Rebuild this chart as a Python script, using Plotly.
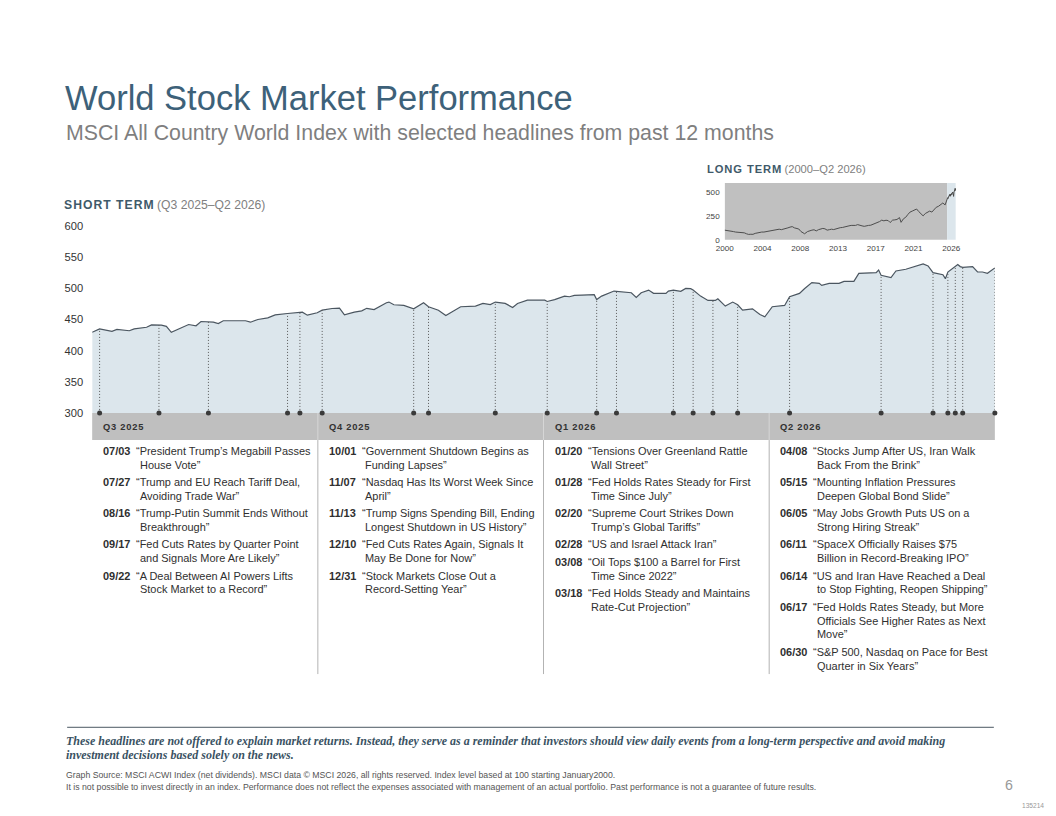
import numpy as np
import pandas as pd
import plotly.graph_objects as go

# Page capture: the figure sits inside the default 8px body margin and the captured
# page is resized to the window, so target pixels are converted to figure pixels.
W, H = 1056, 816
OFF = 8
SX, SY = 0.986, 0.981
FS = 1 / 0.985

# ---------------- data ----------------
ST_DATES = [
    "2025-06-30", "2025-07-03", "2025-07-08", "2025-07-10", "2025-07-15", "2025-07-17", "2025-07-22",
    "2025-07-24", "2025-07-28", "2025-07-30", "2025-08-01", "2025-08-04", "2025-08-08", "2025-08-11",
    "2025-08-13", "2025-08-18", "2025-08-20", "2025-08-22", "2025-08-27", "2025-08-29", "2025-08-31",
    "2025-09-02", "2025-09-05", "2025-09-09", "2025-09-12", "2025-09-17", "2025-09-21", "2025-09-23",
    "2025-09-25", "2025-09-29", "2025-10-01", "2025-10-05", "2025-10-08", "2025-10-10", "2025-10-14",
    "2025-10-17", "2025-10-19", "2025-10-22", "2025-10-27", "2025-10-28", "2025-10-30", "2025-11-03",
    "2025-11-07", "2025-11-11", "2025-11-13", "2025-11-17", "2025-11-20", "2025-11-26", "2025-12-02",
    "2025-12-05", "2025-12-08", "2025-12-10", "2025-12-14", "2025-12-17", "2025-12-19", "2025-12-23",
    "2025-12-30", "2025-12-31", "2026-01-03", "2026-01-07", "2026-01-09", "2026-01-11", "2026-01-14",
    "2026-01-19", "2026-01-20", "2026-01-22", "2026-01-27", "2026-01-28", "2026-02-03", "2026-02-05",
    "2026-02-07", "2026-02-10", "2026-02-12", "2026-02-17", "2026-02-18", "2026-02-20", "2026-02-23",
    "2026-02-25", "2026-02-27", "2026-02-28", "2026-03-03", "2026-03-06", "2026-03-09", "2026-03-10",
    "2026-03-13", "2026-03-16", "2026-03-18", "2026-03-20", "2026-03-24", "2026-03-27", "2026-03-29",
    "2026-04-01", "2026-04-06", "2026-04-08", "2026-04-12", "2026-04-14", "2026-04-17", "2026-04-20",
    "2026-04-21", "2026-04-24", "2026-04-28", "2026-04-30", "2026-05-04", "2026-05-06", "2026-05-13",
    "2026-05-14", "2026-05-15", "2026-05-19", "2026-05-21", "2026-05-25", "2026-05-29", "2026-06-01",
    "2026-06-03", "2026-06-05", "2026-06-09", "2026-06-10", "2026-06-11", "2026-06-15", "2026-06-16",
    "2026-06-17", "2026-06-21", "2026-06-23", "2026-06-25", "2026-06-27", "2026-06-30",
]
ST_VALUES = [
    429.5, 435, 431, 434, 432, 435, 437.6,
    441.4, 441, 439, 429.5, 435, 442, 440,
    446.8, 445.7, 443.5, 448, 448, 446.8, 448,
    445.7, 450, 452.7, 457.5, 459.7, 461.8, 461.8,
    457, 460.8, 465, 467.7, 468.3, 457.6, 461.8,
    464, 468, 466, 477, 478, 473.7, 472.6,
    467.2, 477, 470.5, 465, 456.5, 470.5, 471.5,
    475.8, 474, 478, 475.8, 469.4, 475.8, 481,
    481, 479, 482, 487.6, 486.6, 488.7, 489.2,
    489.8, 482, 487.6, 495.7, 495.2, 493, 485.5,
    493, 497.3, 492, 492, 495.7, 497.3, 495.2,
    500, 499.5, 497.3, 487.6, 480.6, 480.6, 483.4,
    471.5, 478, 473.7, 465, 467.2, 458, 454.4,
    470.5, 472.6, 486.6, 492, 499.5, 509.2, 508,
    504.8, 508, 508, 511.3, 511.3, 524.2, 525.3,
    529.5, 521, 517.3, 528, 530.7, 536, 539.2,
    536, 525.3, 522, 515.6, 526.3, 538.2, 535,
    533.9, 535, 526.3, 526.3, 524.2, 532.8,
]

LT_DATES = [
    "2000-01-01", "2000-04-01", "2000-07-01", "2000-10-01", "2001-01-01", "2001-04-01", "2001-07-01",
    "2001-10-01", "2002-01-01", "2002-04-01", "2002-07-01", "2002-10-01", "2003-01-01", "2003-04-01",
    "2003-07-01", "2003-10-01", "2004-01-01", "2004-04-01", "2004-07-01", "2004-10-01", "2005-01-01",
    "2005-04-01", "2005-07-01", "2005-10-01", "2006-01-01", "2006-04-01", "2006-07-01", "2006-10-01",
    "2007-01-01", "2007-04-01", "2007-07-01", "2007-10-01", "2008-01-01", "2008-04-01", "2008-07-01",
    "2008-10-01", "2009-01-01", "2009-03-01", "2009-07-01", "2009-10-01", "2010-01-01", "2010-04-01",
    "2010-07-01", "2010-10-01", "2011-01-01", "2011-04-01", "2011-07-01", "2011-10-01", "2012-01-01",
    "2012-04-01", "2012-07-01", "2012-10-01", "2013-01-01", "2013-04-01", "2013-07-01", "2013-10-01",
    "2014-01-01", "2014-04-01", "2014-07-01", "2014-10-01", "2015-01-01", "2015-04-01", "2015-07-01",
    "2015-10-01", "2016-01-01", "2016-04-01", "2016-07-01", "2016-10-01", "2017-01-01", "2017-04-01",
    "2017-07-01", "2017-10-01", "2018-01-01", "2018-04-01", "2018-07-01", "2018-10-01", "2018-12-20",
    "2019-04-01", "2019-07-01", "2019-10-01", "2020-01-15", "2020-03-20", "2020-07-01", "2020-10-01",
    "2021-01-01", "2021-04-01", "2021-07-01", "2021-10-01", "2021-12-31", "2022-04-01", "2022-07-01",
    "2022-10-01", "2023-01-01", "2023-04-01", "2023-07-01", "2023-10-01", "2024-01-01", "2024-04-01",
    "2024-07-01", "2024-10-01", "2025-01-01", "2025-04-08",
]
LT_VALUES = [
    100, 98, 96, 90, 85, 80, 78,
    70, 74, 72, 62, 55, 57, 56,
    66, 72, 80, 80, 80, 84, 90,
    88, 93, 98, 105, 110, 105, 114,
    120, 124, 132, 137, 124, 120, 112,
    85, 72, 62, 85, 95, 100, 104,
    92, 105, 112, 118, 114, 100, 105,
    110, 106, 114, 120, 126, 128, 136,
    140, 145, 150, 148, 150, 158, 155,
    145, 140, 148, 150, 152, 160, 170,
    180, 190, 205, 198, 204, 200, 180,
    205, 208, 212, 232, 182, 220, 235,
    265, 290, 300, 310, 322, 295, 270,
    250, 275, 285, 300, 290, 320, 340,
    350, 365, 385, 365,
]
LT_TICK_LABELS = ["2000", "2004", "2008", "2013", "2017", "2021", "2026"]
LT_Y_TICKS = [0, 250, 500]
ST_Y_TICKS = [300, 350, 400, 450, 500, 550, 600]

QUARTERS = ["Q3 2025", "Q4 2025", "Q1 2026", "Q2 2026"]

Q3_DATES = ["2025-07-03", "2025-07-27", "2025-08-16", "2025-09-17", "2025-09-22"]
Q3_HEADLINES = [
    "“President Trump’s Megabill Passes|House Vote”",
    "“Trump and EU Reach Tariff Deal,|Avoiding Trade War”",
    "“Trump-Putin Summit Ends Without|Breakthrough”",
    "“Fed Cuts Rates by Quarter Point|and Signals More Are Likely”",
    "“A Deal Between AI Powers Lifts|Stock Market to a Record”",
]
Q4_DATES = ["2025-10-01", "2025-11-07", "2025-11-13", "2025-12-10", "2025-12-31"]
Q4_HEADLINES = [
    "“Government Shutdown Begins as|Funding Lapses”",
    "“Nasdaq Has Its Worst Week Since|April”",
    "“Trump Signs Spending Bill, Ending|Longest Shutdown in US History”",
    "“Fed Cuts Rates Again, Signals It|May Be Done for Now”",
    "“Stock Markets Close Out a|Record-Setting Year”",
]
Q1_DATES = ["2026-01-20", "2026-01-28", "2026-02-20", "2026-02-28", "2026-03-08", "2026-03-18"]
Q1_HEADLINES = [
    "“Tensions Over Greenland Rattle|Wall Street”",
    "“Fed Holds Rates Steady for First|Time Since July”",
    "“Supreme Court Strikes Down|Trump’s Global Tariffs”",
    "“US and Israel Attack Iran”",
    "“Oil Tops $100 a Barrel for First|Time Since 2022”",
    "“Fed Holds Steady and Maintains|Rate-Cut Projection”",
]
Q2_DATES = ["2026-04-08", "2026-05-15", "2026-06-05", "2026-06-11", "2026-06-14", "2026-06-17", "2026-06-30"]
Q2_HEADLINES = [
    "“Stocks Jump After US, Iran Walk|Back From the Brink”",
    "“Mounting Inflation Pressures|Deepen Global Bond Slide”",
    "“May Jobs Growth Puts US on a|Strong Hiring Streak”",
    "“SpaceX Officially Raises $75|Billion in Record-Breaking IPO”",
    "“US and Iran Have Reached a Deal|to Stop Fighting, Reopen Shipping”",
    "“Fed Holds Rates Steady, but More|Officials See Higher Rates as Next|Move”",
    "“S&amp;P 500, Nasdaq on Pace for Best|Quarter in Six Years”",
]

# ---------------- styling ----------------
FONT = "Liberation Sans, Arial, sans-serif"
SERIF = "Liberation Serif, Times New Roman, serif"
SLATE = "#3d6179"
DARK = "#2f2f2f"
GRAY = "#7f7f7f"
FILL = "#dce6ec"
LINE = "#4b5660"
BAND = "#bfbfbf"


def px(x):
    return (x / SX - OFF) / W


def py(y):
    return 1 - (y / SY - OFF) / H


def fs(s):
    return round(s * FS, 2)


PLOT_L, PLOT_R = 91, 993
PLOT_T, PLOT_B = 227, 413

fig = go.Figure()

# short-term area
fig.add_trace(go.Scatter(
    x=ST_DATES, y=ST_VALUES, mode="lines", fill="tozeroy",
    fillcolor=FILL, line=dict(color=LINE, width=1.2),
    xaxis="x", yaxis="y", hoverinfo="skip", showlegend=False,
))

# headline markers + dotted drop lines
all_dates = Q3_DATES + Q4_DATES + Q1_DATES + Q2_DATES
st_num = pd.to_datetime(ST_DATES).astype("int64").to_numpy()
hd_num = pd.to_datetime(all_dates).astype("int64").to_numpy()
tops = np.interp(hd_num, st_num, np.array(ST_VALUES, dtype=float))
lx, ly = [], []
for d, t in zip(all_dates, tops):
    lx += [d, d, None]
    ly += [ST_Y_TICKS[0], t, None]
fig.add_trace(go.Scatter(
    x=lx, y=ly, mode="lines", line=dict(color="#5a5a5a", width=1, dash="1px,2px"),
    xaxis="x", yaxis="y", hoverinfo="skip", showlegend=False,
))
fig.add_trace(go.Scatter(
    x=all_dates, y=[ST_Y_TICKS[0]] * len(all_dates), mode="markers",
    marker=dict(color="#3a3a3a", size=5), cliponaxis=False,
    xaxis="x", yaxis="y", hoverinfo="skip", showlegend=False,
))

# long-term inset
lt_x = LT_DATES + ST_DATES
lt_y = LT_VALUES + ST_VALUES
fig.add_trace(go.Scatter(
    x=lt_x, y=lt_y, mode="lines", line=dict(color="#4d4d4d", width=1),
    xaxis="x2", yaxis="y2", hoverinfo="skip", showlegend=False,
))

start = pd.Timestamp("2000-01-01")
step_days = 4.33 * 365.25
lt_tickvals = [(start + pd.Timedelta(days=k * step_days)).strftime("%Y-%m-%d")
               for k in range(len(LT_TICK_LABELS))]

IN_L, IN_R, IN_T, IN_B = 723, 954, 184, 240.5

fig.update_layout(
    width=W, height=H, margin=dict(l=0, r=0, t=0, b=0),
    paper_bgcolor="white", plot_bgcolor="rgba(0,0,0,0)",
    font=dict(family=FONT, color=DARK),
    xaxis=dict(domain=[px(PLOT_L), px(PLOT_R)], type="date",
               range=[ST_DATES[0], ST_DATES[-1]], showticklabels=False,
               showgrid=False, zeroline=False, showline=False, ticks=""),
    yaxis=dict(domain=[py(PLOT_B), py(PLOT_T)], range=[300, 600],
               tickvals=ST_Y_TICKS, showgrid=False, zeroline=False, showline=False,
               ticks="", tickfont=dict(size=fs(11), color="#333333", family=FONT),
               ticklabelstandoff=8),
    xaxis2=dict(domain=[px(IN_L), px(IN_R)], type="date", anchor="y2",
                range=["2000-01-01", ST_DATES[-1]], tickvals=lt_tickvals,
                ticktext=LT_TICK_LABELS, showgrid=False, zeroline=False,
                showline=False, ticks="", tickfont=dict(size=fs(8), color="#444444"),
                ticklabelstandoff=2),
    yaxis2=dict(domain=[py(IN_B), py(IN_T)], anchor="x2", range=[0, 596],
                tickvals=LT_Y_TICKS, showgrid=False, zeroline=False, showline=False,
                ticks="", tickfont=dict(size=fs(8), color="#444444"), ticklabelstandoff=4),
)

shapes = []
# inset backgrounds
shapes.append(dict(type="rect", xref="x2", yref="y2 domain", x0="2000-01-01", x1=ST_DATES[0],
                   y0=0, y1=1, fillcolor="#c0c0c0", line=dict(width=0), layer="below"))
shapes.append(dict(type="rect", xref="x2", yref="y2 domain", x0=ST_DATES[0], x1=ST_DATES[-1],
                   y0=0, y1=1, fillcolor=FILL, line=dict(width=0), layer="below"))

# quarter header band
BAND_T, BAND_B, TABLE_B = 413, 440, 673
shapes.append(dict(type="rect", xref="paper", yref="paper", x0=px(PLOT_L), x1=px(PLOT_R),
                   y0=py(BAND_B), y1=py(BAND_T), fillcolor=BAND, line=dict(width=0), layer="below"))
col_w = (PLOT_R - PLOT_L) / len(QUARTERS)
for c in range(1, len(QUARTERS)):
    xc = PLOT_L + c * col_w
    shapes.append(dict(type="line", xref="paper", yref="paper", x0=px(xc), x1=px(xc),
                       y0=py(BAND_B), y1=py(BAND_T), line=dict(color="#d6d6d6", width=1)))
    shapes.append(dict(type="line", xref="paper", yref="paper", x0=px(xc), x1=px(xc),
                       y0=py(TABLE_B), y1=py(BAND_B), line=dict(color="#b3b3b3", width=1)))

# footer rule
shapes.append(dict(type="line", xref="paper", yref="paper", x0=px(66), x1=px(992),
                   y0=py(726), y1=py(726), line=dict(color="#4a5762", width=1)))

annotations = []


def add_text(x, y, text, size, color=DARK, family=FONT, xanchor="left", yanchor="middle",
             align="left"):
    annotations.append(dict(xref="paper", yref="paper", x=px(x), y=py(y), text=text,
                            showarrow=False, xanchor=xanchor, yanchor=yanchor, align=align,
                            borderpad=0, borderwidth=0,
                            font=dict(size=fs(size), color=color, family=family)))


# titles
add_text(64, 99, "World Stock Market Performance", 34, SLATE)
add_text(65, 134, "MSCI All Country World Index with selected headlines from past 12 months",
         21, GRAY)

HS = "\u200a"


def spaced(s):
    return HS.join(list(s))


add_text(63, 206, f"<span style='color:#3f5a6a'><b>{spaced('SHORT TERM')}</b></span>"
                  f" (Q3 2025–Q2 2026)", 12, "#808080")
add_text(705, 170, f"<span style='color:#3f5a6a'><b>{spaced('LONG TERM')}</b></span>"
                   f" (2000–Q2 2026)", 11, "#808080")

# quarter headers and headlines
LINE_H = 13.65
GAP = 3.8
TXT = 10.8
cols = [(Q3_DATES, Q3_HEADLINES), (Q4_DATES, Q4_HEADLINES),
        (Q1_DATES, Q1_HEADLINES), (Q2_DATES, Q2_HEADLINES)]
for c, (q, (dates, heads)) in enumerate(zip(QUARTERS, cols)):
    col_left = PLOT_L + c * col_w
    add_text(col_left + 11, 427.5, f"<b>{spaced(q)}</b>", 9.2, "#333333")
    yc = 450.7
    for d, h in zip(dates, heads):
        lines = h.split("|")
        label = pd.Timestamp(d).strftime("%m/%d")
        add_text(col_left + 11, yc, f"<b>{label}</b>", TXT, DARK)
        for i, ln in enumerate(lines):
            add_text(col_left + 44 + (0 if i == 0 else 3.5), yc + i * LINE_H, ln, TXT, DARK)
        yc += len(lines) * LINE_H + GAP

# footer text
DISC1 = ("These headlines are not offered to explain market returns. Instead, they serve as a reminder "
         "that investors should view daily events from a long-term perspective and avoid making")
DISC2 = "investment decisions based solely on the news."
add_text(65, 739.5, f"<b><i>{DISC1}</i></b>", 11.8, "#3a5263", family=SERIF)
add_text(65, 753.5, f"<b><i>{DISC2}</i></b>", 11.8, "#3a5263", family=SERIF)
SRC1 = ("Graph Source: MSCI ACWI Index (net dividends). MSCI data © MSCI 2026, all rights reserved. "
        "Index level based at 100 starting January2000.")
SRC2 = ("It is not possible to invest directly in an index. Performance does not reflect the expenses "
        "associated with management of an actual portfolio. Past performance is not a guarantee of "
        "future results.")
add_text(65, 773, SRC1, 8.6, "#555555")
add_text(65, 785, SRC2, 8.6, "#555555")
add_text(1007, 783, "6", 14, "#999999", xanchor="center")
add_text(1031, 804, "135214", 6.5, "#999999", xanchor="center")

fig.update_layout(shapes=shapes, annotations=annotations)
fig.write_html("out.html")
